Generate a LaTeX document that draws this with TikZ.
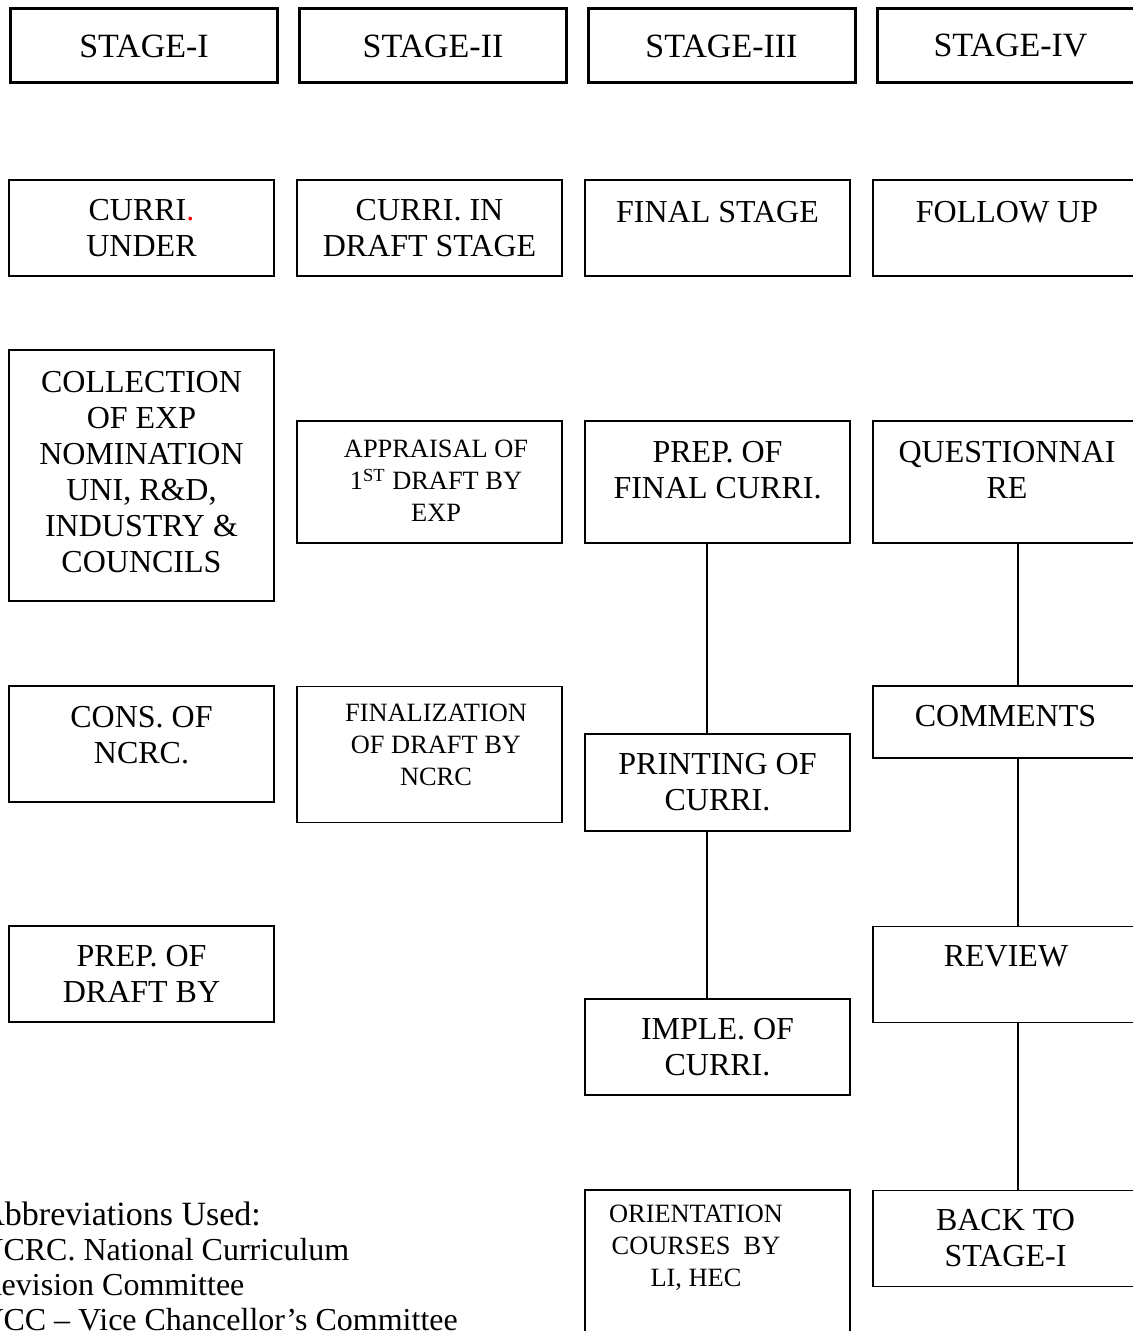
\documentclass[tikz,border=0pt]{standalone}
\usepackage{fontspec}
\setmainfont{Liberation Serif}
\usepackage{tikz}
\usepackage{xcolor}

\begin{document}
\begin{tikzpicture}[
    x=0.5pt, y=-0.5pt,
    every node/.style={font=\fontsize{16}{18}\selectfont},
    stagebox/.style={draw, line width=1.5pt, minimum width=133.5pt, minimum height=37pt, inner sep=0pt, font=\fontsize{17}{20}\selectfont},
    box/.style={draw, line width=0.75pt, minimum width=132.5pt, inner sep=0pt, align=center},
    txt/.style={align=center, inner sep=0pt},
    smalltxt/.style={txt, font=\fontsize{13.2}{16}\selectfont},
    link/.style={line width=0.6pt}
]
    \useasboundingbox (0,0) rectangle (1133,1331);

    % Stage headers
    \node[stagebox] (st1) at (144,46) {STAGE-I};
    \node[stagebox] (st2) at (433,46) {STAGE-II};
    \node[stagebox] (st3) at (721.5,46) {STAGE-III};
    \node[stagebox] (st4) at (1010.5,46) {STAGE-IV};

    % Second row
    \node[box, minimum height=48pt] (under) at (141.5,228) {CURRI\textcolor{red}{.}\\UNDER};
    \node[box, minimum height=48pt] (draft) at (429.5,228) {CURRI. IN\\DRAFT STAGE};
    \node[box, minimum height=48pt] (final) at (717.5,228) {};
    \node[txt] (final-t) at (717.5,212) {FINAL STAGE};
    \node[box, minimum height=48pt] (follow) at (1005.5,228) {};
    \node[txt] (follow-t) at (1007,212) {FOLLOW UP};

    % Stage I column
    \node[box, minimum height=125.5pt] (collect) at (141.5,475.5) {};
    \node[txt] (collect-t) at (141.5,472) {COLLECTION\\OF EXP\\NOMINATION\\UNI, R\&D,\\INDUSTRY \&\\COUNCILS};
    \node[box, minimum height=58pt] (cons) at (141.5,744) {};
    \node[txt] (cons-t) at (141.5,735) {CONS. OF\\NCRC.};
    \node[box, minimum height=48pt] (prepdr) at (141.5,974) {PREP. OF\\DRAFT BY};

    % Stage II column
    \node[box, minimum height=61pt] (apprais) at (429.5,482) {};
    \node[smalltxt] (apprais-t) at (436,481) {APPRAISAL OF\\1\textsuperscript{ST} DRAFT BY\\EXP};
    \node[box, minimum height=68pt] (finali) at (429.5,754.5) {};
    \node[smalltxt] (finali-t) at (436,745) {FINALIZATION\\OF DRAFT BY\\NCRC};

    % Stage III column
    \node[box, minimum height=61pt] (prepfin) at (717.5,482) {};
    \node[txt] (prepfin-t) at (717.5,470) {PREP. OF\\FINAL CURRI.};
    \node[box, minimum height=48.5pt] (print) at (717.5,782.5) {PRINTING OF\\CURRI.};
    \node[box, minimum height=48pt] (imple) at (717.5,1047) {IMPLE. OF\\CURRI.};
    \node[box, minimum height=100pt] (orient) at (717.5,1290) {};
    \node[smalltxt] (orient-t) at (696,1248) {ORIENTATION\\COURSES~~BY\\LI, HEC};

    % Stage IV column
    \node[box, minimum height=61pt] (quest) at (1005.5,482) {};
    \node[txt] (quest-t) at (1007,470) {QUESTIONNAI\\RE};
    \node[box, minimum height=36pt] (comm) at (1005.5,722) {};
    \node[txt] (comm-t) at (1005.5,716) {COMMENTS};
    \node[box, minimum height=48pt] (review) at (1005.5,974.5) {};
    \node[txt] (review-t) at (1006,956) {REVIEW};
    \node[box, minimum height=48pt] (back) at (1005.5,1238.5) {BACK TO\\STAGE-I};

    % Connectors
    \draw[link] ([xshift=-5.25pt]prepfin.south) -- ([xshift=-5.25pt]print.north);
    \draw[link] ([xshift=-5.25pt]print.south) -- ([xshift=-5.25pt]imple.north);
    \draw[link] ([xshift=6.25pt]quest.south) -- ([xshift=6.25pt]comm.north);
    \draw[link] ([xshift=6.25pt]comm.south) -- ([xshift=6.25pt]review.north);
    \draw[link] ([xshift=6.25pt]review.south) -- ([xshift=6.25pt]back.north);

    % Abbreviations
    \node[align=left, anchor=north west, inner sep=0pt, font=\fontsize{16}{17.5}\selectfont] (abbr) at (-20,1201)
        {{\fontsize{17}{17.5}\selectfont Abbreviations Used:}\\NCRC. National Curriculum\\Revision Committee\\VCC – Vice Chancellor’s Committee};

\end{tikzpicture}
\end{document}
